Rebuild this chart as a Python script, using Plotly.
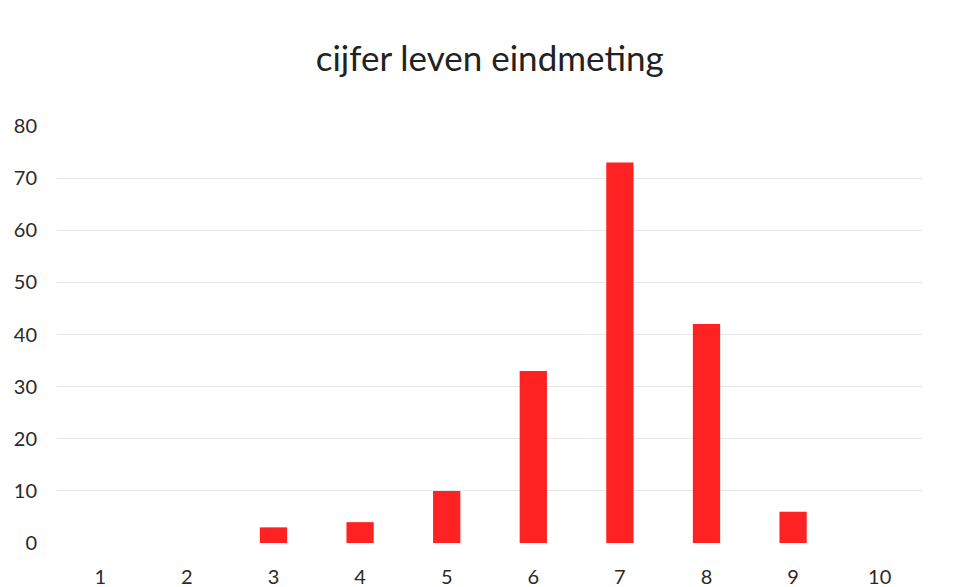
import plotly.graph_objects as go

categories = ["1", "2", "3", "4", "5", "6", "7", "8", "9", "10"]
values = [0, 0, 3, 4, 10, 33, 73, 42, 6, 0]
y_ticks = [0, 10, 20, 30, 40, 50, 60, 70, 80]
title_text = "cijfer leven eindmeting"

fig = go.Figure(
    go.Bar(
        x=categories,
        y=values,
        marker=dict(color="#ff2222", line=dict(width=0)),
    )
)

fig.update_layout(
    width=964,
    height=587,
    paper_bgcolor="white",
    plot_bgcolor="white",
    margin=dict(l=57, r=41, t=126, b=44, autoexpand=False),
    bargap=0.685,
    showlegend=False,
    title=dict(
        text=title_text,
        x=0.508,
        xanchor="center",
        y=0.900,
        yanchor="middle",
        font=dict(family="Lato", size=35, color="#222222"),
    ),
    font=dict(family="Lato", size=20, color="#2a2a2a"),
)

fig.update_xaxes(
    type="category",
    automargin=False,
    showgrid=False,
    showline=False,
    zeroline=False,
    ticks="",
    ticklabelstandoff=20,
    tickfont=dict(family="Lato", size=20, color="#2a2a2a"),
)
fig.update_yaxes(
    range=[0, 80],
    automargin=False,
    tickvals=y_ticks,
    showgrid=True,
    gridcolor="#e8e8e8",
    gridwidth=1,
    zeroline=False,
    showline=False,
    ticks="",
    ticklabelstandoff=19,
    tickfont=dict(family="Lato", size=20, color="#2a2a2a"),
)

fig.write_html("out.html")
